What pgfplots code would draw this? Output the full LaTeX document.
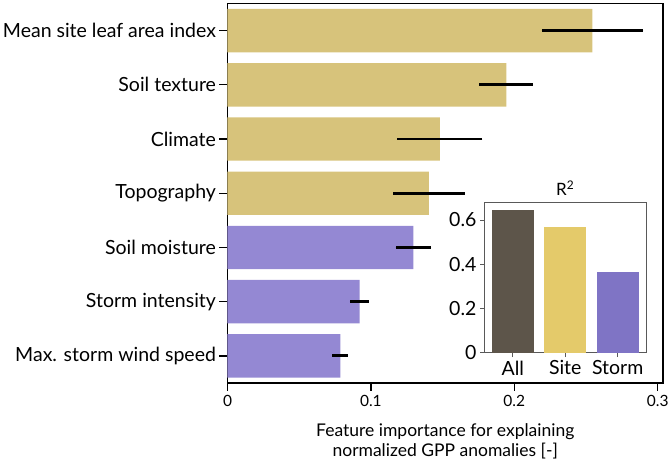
\documentclass[border=0pt]{standalone}
\usepackage{pgfplots}
\pgfplotsset{compat=1.18}
\usepackage{pgfplotstable}
\usepackage{fontspec}
\setmainfont{Lato}
\usetikzlibrary{calc}

\definecolor{sitegold}{RGB}{215,195,123}
\definecolor{stormpurple}{RGB}{148,136,211}
\definecolor{allbrown}{RGB}{93,85,74}
\definecolor{sitegoldB}{RGB}{228,202,106}
\definecolor{stormpurpleB}{RGB}{127,116,197}

% feature importance (mean) and half-width of the spread
\pgfplotstableread{
pos imp err
6 0.2545 0.0355
5 0.1944 0.0187
4 0.1481 0.0297
3 0.1405 0.0249
}\sitefeatures
\pgfplotstableread{
pos imp err
2 0.1296 0.0124
1 0.0921 0.0067
0 0.0787 0.0055
}\stormfeatures

\newcommand\catfont{\fontsize{19.5}{23}\selectfont}
\newcommand\numfont{\fontsize{15.5}{19}\selectfont}
\newcommand\xlabfont{\fontsize{17.5}{20}\selectfont}

\begin{document}
\begin{tikzpicture}
\begin{axis}[
  name=main,
  scale only axis, width=435.5pt, height=379.5pt,
  xmin=0, xmax=0.3037, ymin=-0.5, ymax=6.5,
  xtick={0,0.1,0.2,0.3}, xticklabels={0,0.1,0.2,0.3},
  ytick={0,1,2,3,4,5,6},
  yticklabels={Max. storm wind speed,Storm intensity,Soil moisture,Topography,Climate,Soil texture,Mean site leaf area index},
  tick align=outside, tick pos=left, major tick length=8pt,
  axis line style={line width=1.3pt},
  every tick/.style={black, line width=1.3pt},
  yticklabel style={font=\catfont},
  xticklabel style={font=\numfont, yshift=-1pt},
  xbar, bar width=0.8, bar shift=0pt,
  xlabel={Feature importance for explaining\\normalized GPP anomalies [-]},
  xlabel style={font=\xlabfont, align=center, yshift=-10pt},
]
\addplot[fill=sitegold, draw=none,
  error bars/.cd, x dir=both, x explicit, error mark=none,
  error bar style={line width=2.8pt, black}]
  table[x=imp, y=pos, x error=err] {\sitefeatures};
\addplot[fill=stormpurple, draw=none,
  error bars/.cd, x dir=both, x explicit, error mark=none,
  error bar style={line width=2.8pt, black}]
  table[x=imp, y=pos, x error=err] {\stormfeatures};
\end{axis}

\begin{axis}[
  at={($(main.south west)+(257pt,30.3pt)$)}, anchor=south west,
  scale only axis, width=161.5pt, height=150.4pt,
  xmin=-0.54, xmax=2.54, ymin=0, ymax=0.68,
  ytick={0,0.2,0.4,0.6}, yticklabels={0,0.2,0.4,0.6},
  xtick={0,1,2}, xticklabels={All,Site,Storm},
  ticklabel style={font=\catfont},
  axis background/.style={fill=white},
  title={R\textsuperscript{2}},
  title style={font=\fontsize{17}{20}\selectfont, yshift=-3pt},
  ybar, bar width=0.8, bar shift=0pt,
  tick align=outside, tick pos=left, major tick length=4.5pt,
  axis line style={line width=0.9pt, black!65},
  every tick/.style={black!65, line width=0.9pt},
]
\addplot[fill=allbrown, draw=none] coordinates {(0,0.647)};
\addplot[fill=sitegoldB, draw=none] coordinates {(1,0.569)};
\addplot[fill=stormpurpleB, draw=none] coordinates {(2,0.366)};
\end{axis}

\pgfresetboundingbox
\path ($(main.south west)+(-227.5pt,-81pt)$) rectangle ($(main.north east)+(6pt,3.5pt)$);
\end{tikzpicture}
\end{document}
